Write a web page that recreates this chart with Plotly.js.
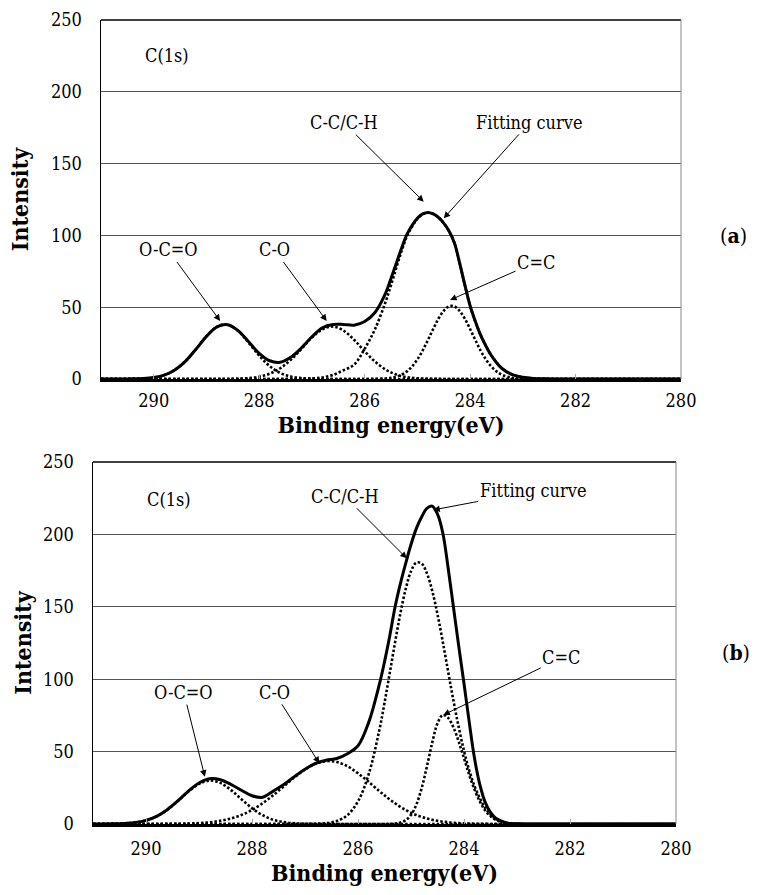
<!DOCTYPE html>
<html>
<head>
<meta charset="utf-8">
<script src="https://cdn.plot.ly/plotly-3.0.1.min.js"></script>
<style>html,body{margin:0;padding:0;background:#fff;}#chart{width:775px;height:895px;}</style>
</head>
<body>
<div id="chart"></div>
<script>
// Binding energy grid (eV)
var energy = [291, 290.6, 290.4, 290.2, 290.0, 289.8, 289.6, 289.4, 289.2, 289.0, 288.8, 288.6, 288.4, 288.2, 288.0, 287.8, 287.6, 287.4, 287.2, 287.0, 286.8, 286.6, 286.4, 286.2, 286.0, 285.8, 285.6, 285.5, 285.4, 285.3, 285.2, 285.1, 285.0, 284.9, 284.8, 284.7, 284.6, 284.5, 284.4, 284.3, 284.2, 284.1, 284.0, 283.9, 283.8, 283.7, 283.6, 283.5, 283.4, 283.2, 283.0, 282.8, 282.6, 282.4, 280];

// Panel (a)
var ocoA = [0,0,0.1,0.3,1.0,2.7,6.3,12.3,20.7,29.7,36.3,37.8,33.5,25.3,16.3,9.0,4.2,1.7,0.6,0.2,0, 0,0,0,0,0,0,0,0,0,0,0,0,0,0,0,0,0,0,0,0,0,0,0,0,0,0,0,0,0,0,0,0,0,0];
var coA = [0,0,0,0,0,0,0,0,0,0,0,0, 0.2,0.6,1.6,3.7,7.5,13.4,20.9,28.8,34.6,36.5,33.7,27.3,19.3,12.0,6.5,4.6,3.1,2.0,1.3,0.8,0.5,0.3,0.2,0.1,0.1, 0,0,0,0,0,0,0,0,0,0,0,0,0,0,0,0,0,0];
var ccA = [0,0,0,0,0,0,0,0,0,0,0,0,0,0,0,0,0, 0,0.1,0.4,1.1,2.8,6.1,10,21,35,54,65.4,77.4,89,99.2,106.2,111.5,114.7,115.8,115,112.5,108.5,103,95,81,65.5,51,40,30.5,23,16.5,11.5,7.5,3,1.2,0.4,0.1,0,0];
var cceA = [0,0,0,0,0,0,0,0,0,0,0,0,0,0,0,0,0,0,0,0,0,0,0,0, 0,0.1,0.4,0.8,1.6,3.0,5.3,8.8,13.6,19.8,27.1,34.8,42.0,47.5,50.6,50.6,47.5,42.0,34.8,27.1,19.8,13.6,8.8,5.3,3.0,0.8,0.2,0,0,0,0];
var fitA = [0,0,0.1,0.3,1.0,2.7,6.3,12.3,20.7,29.7,36.3,37.8,33.7,25.9,17.9,12.7,11.7,15.1,21.6,29.4,35.7,38,38,37.5,40,46.5,60,70,80.5,91,100.5,107,112,115,116,115,112.5,108.5,103,95,81,65.5,51,40,30.5,23,16.5,11.5,7.5,3,1.2,0.4,0.1,0,0];

// Panel (b)
var ocoB = [0,0.1,0.4,1.0,2.5,5.3,9.8,15.8,22.4,27.7,30.0,28.4,23.6,17.1,10.9,6.1,2.9,1.3,0.5,0.2,0, 0,0,0,0,0,0,0,0,0,0,0,0,0,0,0,0,0,0,0,0,0,0,0,0,0,0,0,0,0,0,0,0,0,0];
var coB = [0,0,0,0,0,0,0.1,0.1, 0.3,0.6,1.2,2.2,3.8,6.2,9.7,14.3,19.8,26.0,32.2,37.6,41.6,43.4,42.8,39.9,35.0,29.1,22.8,19.8,16.9,14.3,11.8,9.7,7.8,6.2,4.9,3.8,2.9,2.2,1.6,1.2,0.8,0.6,0.4,0.3,0.2,0.1,0.1, 0,0,0,0,0,0,0,0];
var ccB = [0,0,0,0,0,0,0,0,0,0,0,0,0,0,0,0,0,0,0,0, 0.2,0.6,2.1,6.1,15.6,34.2,64.4,83.6,104.4,125.6,145.5,162.3,174.5,180.5,179.9,173.2,161.1,144.8,125.7,105.4,85.4,66.9,50.5,36.9,26.1,17.8,11,6.5,3.5,0.8,0.2,0,0,0,0];
var cceB = [0,0,0,0,0,0,0,0,0,0,0,0,0,0,0,0,0,0,0,0,0,0,0,0,0,0,0, 0,0.1,0.3,1.0,2.6,6.3,13.3,24.6,39.7,56.1,69.5,75.3,73.3,66.8,56.9,45.4,33.8,23.6,15.4,9.4,5.4,2.9,0.7,0.1,0,0,0,0];
var fitB = [0,0.1,0.4,1.0,2.5,5.3,9.9,15.9,22.7,28.3,31.2,30.6,27.4,23.3,19.5,18.5,22.7,27.3,32.7,37.8,41.8,44.0,45.2,48.5,54,70,96,112,130,150,166,180,193,204,212,218,219.5,214,201,177,150,123,97,70,45,27,15,8,4,0.8,0.1,0,0,0,0];

var xTicks = [290, 288, 286, 284, 282, 280];
var yTicks = [0, 50, 100, 150, 200, 250];

var FONT = "DejaVu Serif Condensed, DejaVu Serif";

function comp(y, xa, ya) {
  return {x: energy, y: y, xaxis: xa, yaxis: ya, mode: 'lines', type: 'scatter',
    line: {color: '#000', width: 2.6, dash: '2.5px,2px', shape: 'spline', smoothing: 1}, hoverinfo: 'skip'};
}
function fit(y, xa, ya) {
  return {x: energy, y: y, xaxis: xa, yaxis: ya, mode: 'lines', type: 'scatter',
    line: {color: '#000', width: 3, shape: 'spline', smoothing: 1}, hoverinfo: 'skip'};
}

var data = [
  comp(ocoA, 'x', 'y'), comp(coA, 'x', 'y'), comp(ccA, 'x', 'y'), comp(cceA, 'x', 'y'), fit(fitA, 'x', 'y'),
  comp(ocoB, 'x2', 'y2'), comp(coB, 'x2', 'y2'), comp(ccB, 'x2', 'y2'), comp(cceB, 'x2', 'y2'), fit(fitB, 'x2', 'y2')
];

function xax(domain, anchor, standoff) {
  return {domain: domain, anchor: anchor, range: [291, 280], tickvals: xTicks, ticktext: xTicks.map(String),
    ticks: 'inside', ticklen: 5, tickcolor: '#aaa', tickwidth: 1,
    showline: true, linecolor: '#000', linewidth: 2.5, showgrid: false, zeroline: false,
    tickfont: {family: FONT, size: 18, color: '#000'}, ticklabelstandoff: standoff,
    title: {text: '<b>Binding energy(eV)</b>', font: {family: FONT, size: 23, color: '#000'}, standoff: 0}};
}
function yax(domain, anchor, titleStandoff) {
  return {domain: domain, anchor: anchor, range: [0, 250], tickvals: yTicks, ticks: '',
    showline: true, linecolor: '#000', linewidth: 1.5, showgrid: true, gridcolor: '#555', gridwidth: 1,
    zeroline: false, tickfont: {family: FONT, size: 18, color: '#000'}, ticklabelstandoff: 14,
    title: {text: '<b>Intensity</b>', font: {family: FONT, size: 23, color: '#000'}, standoff: titleStandoff}};
}

var annFont = {family: FONT, size: 18, color: '#000'};
function arrowAnn(xref, yref, x, y, text, ax, ay) {
  return {xref: xref, yref: yref, x: x, y: y, text: text, showarrow: true, arrowhead: 2, arrowsize: 1.3,
    arrowwidth: 1, arrowcolor: '#000', ax: ax, ay: ay, font: annFont, standoff: 0};
}

var layout = {
  width: 775, height: 895, margin: {l: 0, r: 0, t: 0, b: 0},
  font: {family: FONT, color: '#000'},
  paper_bgcolor: '#fff', plot_bgcolor: '#fff', showlegend: false,
  xaxis: xax([101/775, 681/775], 'y', 4),
  yaxis: yax([516/895, 875/895], 'x', 16),
  xaxis2: xax([93/775, 676/775], 'y2', 7),
  yaxis2: yax([71/895, 433/895], 'x2', 5),
  shapes: [
    {type: 'line', xref: 'x domain', yref: 'y domain', x0: 0, x1: 1, y0: 1, y1: 1, line: {color: '#000', width: 1.5}},
    {type: 'line', xref: 'x domain', yref: 'y domain', x0: 1, x1: 1, y0: 0, y1: 1, line: {color: '#888', width: 1}},
    {type: 'line', xref: 'x2 domain', yref: 'y2 domain', x0: 0, x1: 1, y0: 1, y1: 1, line: {color: '#000', width: 1.5}},
    {type: 'line', xref: 'x2 domain', yref: 'y2 domain', x0: 1, x1: 1, y0: 0, y1: 1, line: {color: '#888', width: 1}}
  ],
  annotations: [
    {xref: 'x domain', yref: 'y domain', x: 0.073, y: 0.935, text: 'C(1s)', showarrow: false, font: annFont},
    arrowAnn('x', 'y', 288.74, 40.4, 'O-C=O', -52, -71),
    arrowAnn('x', 'y', 286.72, 40.4, 'C-O', -52, -71),
    arrowAnn('x', 'y', 284.88, 123.5, 'C-C/C-H', -80, -79),
    arrowAnn('x', 'y', 284.50, 111.9, 'Fitting curve', 86, -96),
    arrowAnn('x', 'y', 284.38, 55, 'C=C', 86, -38),
    {xref: 'paper', yref: 'paper', x: 749/775, y: 1 - 221/895, text: '(<b>a</b>)', showarrow: false,
      font: {family: FONT, size: 21, color: '#000'}},

    {xref: 'x2 domain', yref: 'y2 domain', x: 0.09, y: 0.93, text: 'C(1s)', showarrow: false, font: annFont},
    arrowAnn('x2', 'y2', 288.89, 32.7, 'O-C=O', -21, -84),
    arrowAnn('x2', 'y2', 286.73, 41.9, 'C-O', -45, -71),
    arrowAnn('x2', 'y2', 285.08, 183.5, 'C-C/C-H', -62, -62),
    arrowAnn('x2', 'y2', 284.58, 216.9, 'Fitting curve', 100, -19),
    arrowAnn('x2', 'y2', 284.39, 75.3, 'C=C', 118, -57),
    {xref: 'paper', yref: 'paper', x: 752/775, y: 1 - 667/895, text: '(<b>b</b>)', showarrow: false,
      font: {family: FONT, size: 21, color: '#000'}}
  ]
};

Plotly.newPlot('chart', data, layout, {staticPlot: true, displayModeBar: false});
</script>
</body>
</html>
